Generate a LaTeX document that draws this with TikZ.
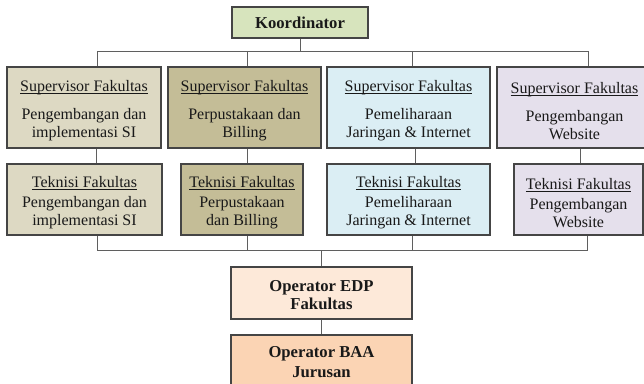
\documentclass[tikz,border=0pt]{standalone}
\usepackage{fontspec}
\setmainfont{Liberation Serif}
\usepackage{xcolor}
\usepackage{tikz}
\usetikzlibrary{positioning}
\definecolor{kgreen}{HTML}{D7E4BD}
\definecolor{tanlt}{HTML}{DDD9C3}
\definecolor{tandk}{HTML}{C4BD97}
\definecolor{aqualt}{HTML}{DBEEF4}
\definecolor{lilac}{HTML}{E5E0EC}
\definecolor{peachlt}{HTML}{FDE9D9}
\definecolor{peach}{HTML}{FBD4B4}
\definecolor{boxline}{HTML}{454545}
\definecolor{linegray}{HTML}{5F5F5F}
% underlined box title, set a little lower in the box
\newcommand{\ttl}[1]{\rule{0pt}{13.5pt}\underline{\smash{#1}}}
\tikzset{
  unit/.style={rectangle, draw=boxline, line width=0.9pt, align=center,
               inner sep=2pt, text=black!90, font=\fontsize{12}{13.5}\selectfont},
  head/.style={unit, font=\fontsize{12.5}{13.5}\selectfont\bfseries},
  link/.style={draw=linegray, line width=0.75pt},
}

\begin{document}
\begin{tikzpicture}[x=0.75pt, y=-0.75pt]
  \useasboundingbox (0,0) rectangle (644,383);
  \coordinate (topbus) at (0,51);
  \coordinate (botbus) at (0,250);

  \node[head, fill=kgreen, minimum width=102pt, minimum height=23.25pt] (koord) at (300,22.5) {Koordinator};

  % supervisors
  \node[unit, fill=tanlt,  minimum width=115.5pt,  minimum height=60.75pt] (sup1) at (84,107.5)
    {\ttl{Supervisor Fakultas}\\[7.5pt]Pengembangan dan\\implementasi SI};
  \node[unit, fill=tandk,  minimum width=114.75pt, minimum height=60.75pt] (sup2) at (244.5,107.5)
    {\ttl{Supervisor Fakultas}\\[7.5pt]Perpustakaan dan\\Billing};
  \node[unit, fill=aqualt, minimum width=122.25pt, minimum height=60.75pt] (sup3) at (408.5,107.5)
    {\ttl{Supervisor Fakultas}\\[7.5pt]Pemeliharaan\\Jaringan \& Internet};
  \node[unit, fill=lilac,  minimum width=116.25pt, minimum height=60.75pt] (sup4) at (574.5,107.5)
    {\ttl{Supervisor Fakultas}\\[7.5pt]Pengembangan\\Website};

  % teknisi
  \node[unit, fill=tanlt,  minimum width=116.25pt, minimum height=53.25pt] (tek1) at (84.5,199.5)
    {\ttl{Teknisi Fakultas}\\[1.5pt]Pengembangan dan\\implementasi SI};
  \node[unit, fill=tandk,  minimum width=91.5pt,   minimum height=53.25pt] (tek2) at (242,199.5)
    {\ttl{Teknisi Fakultas}\\[1.5pt]Perpustakaan\\dan Billing};
  \node[unit, fill=aqualt, minimum width=122.25pt, minimum height=53.25pt] (tek3) at (408.5,199.5)
    {\ttl{Teknisi Fakultas}\\[1.5pt]Pemeliharaan\\Jaringan \& Internet};
  \node[unit, fill=lilac,  minimum width=96.75pt,  minimum height=53.25pt] (tek4) at (578.5,199.5)
    {\ttl{Teknisi Fakultas}\\[1.5pt]Pengembangan\\Website};

  % operators
  \node[head, fill=peachlt, minimum width=135.75pt, minimum height=39pt] (edp) at (321.5,293)
    {\rule{0pt}{12pt}Operator EDP\\Fakultas};
  \node[head, fill=peach,   minimum width=135.75pt, minimum height=41.25pt] (baa) at (321.5,362.5)
    {Operator BAA\\[1.5pt]Jurusan};

  % koordinator down to the supervisors
  \draw[link] (koord.south) -- (koord.south |- topbus);
  \draw[link] (sup1.north -| 97,0) -- (97,0 |- topbus) -| (sup4.north -| 588,0);
  \draw[link] (sup2.north -| 247,0) -- (247,0 |- topbus);
  \draw[link] (sup3.north -| 412,0) -- (412,0 |- topbus);

  % supervisor to teknisi
  \foreach \i/\x in {1/96, 2/247, 3/415, 4/580}
    \draw[link] (sup\i.south -| \x,0) -- (tek\i.north -| \x,0);

  % teknisi down to the operators
  \draw[link] (tek1.south -| 97,0) -- (97,0 |- botbus) -| (tek4.south -| 587,0);
  \draw[link] (tek2.south -| 247,0) -- (247,0 |- botbus);
  \draw[link] (tek3.south -| 412,0) -- (412,0 |- botbus);
  \draw[link] (edp.north |- botbus) -- (edp.north);
  \draw[link] (edp) -- (baa);
\end{tikzpicture}
\end{document}
